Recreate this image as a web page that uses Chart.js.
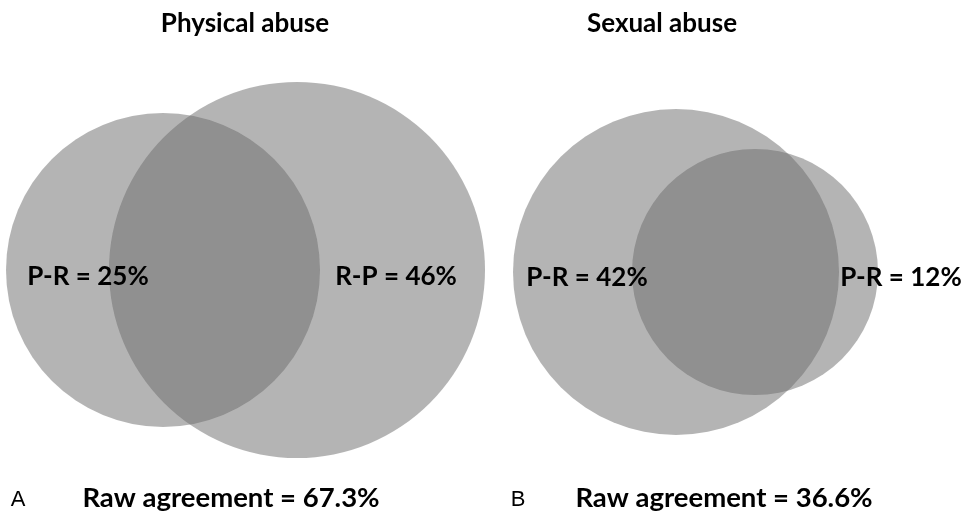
<!DOCTYPE html>
<html lang="en">
<head>
    <meta charset="UTF-8">
    <title>Physical and sexual abuse agreement</title>
    <style>
        body {
            margin: 0;
            background: #ffffff;
        }
        .container {
            width: 965px;
            height: 515px;
            position: relative;
        }
    </style>
</head>
<body>
    <div class="container">
        <canvas id="venn"></canvas>
    </div>
    <script src="https://cdn.jsdelivr.net/npm/chart.js"></script>
    <script>
        // circles (units = scale units, 1 unit = 1px on a 965x515 area)
        const circleNames = ['Physical P', 'Physical R', 'Sexual P', 'Sexual R'];
        const circleX = [163, 297, 676, 755];
        const circleY = [270, 270, 272, 272];
        const circleR = [157, 188, 163, 123];

        const panelTitles = ['Physical abuse', 'Sexual abuse'];
        const regionLabels = ['P-R = 25%', 'R-P = 46%', 'P-R = 42%', 'P-R = 12%'];
        const panelLetters = ['A', 'B'];
        const agreementLabels = ['Raw agreement = 67.3%', 'Raw agreement = 36.6%'];

        // where the texts go, in scale units
        const titlePos = [[245, 24], [662, 24]];
        const regionPos = [[88, 277], [396, 277], [587, 278], [901, 278]];
        const letterPos = [[18, 500], [518, 500]];
        const agreementPos = [[231, 498], [724, 498]];

        const fill = 'rgba(107, 107, 107, 0.51)';

        const textPlugin = {
            id: 'vennText',
            afterDatasetsDraw(chart) {
                const ctx = chart.ctx;
                const xs = chart.scales.x, ys = chart.scales.y;
                function put(str, p, font) {
                    ctx.font = font;
                    ctx.fillText(str, xs.getPixelForValue(p[0]), ys.getPixelForValue(p[1]));
                }
                ctx.save();
                ctx.fillStyle = '#000000';
                ctx.textAlign = 'center';
                ctx.textBaseline = 'middle';
                panelTitles.forEach((t, i) => put(t, titlePos[i], 'bold 26px Lato'));
                regionLabels.forEach((t, i) => put(t, regionPos[i], 'bold 26px Lato'));
                panelLetters.forEach((t, i) => put(t, letterPos[i], '22px "Liberation Sans"'));
                agreementLabels.forEach((t, i) => put(t, agreementPos[i], 'bold 27.5px Lato'));
                ctx.restore();
            }
        };

        new Chart(document.getElementById('venn'), {
            type: 'bubble',
            data: {
                datasets: circleNames.map((name, i) => ({
                    label: name,
                    data: [{ x: circleX[i], y: circleY[i], r: circleR[i] }],
                    backgroundColor: fill,
                    borderWidth: 0,
                    hoverRadius: 0
                }))
            },
            options: {
                responsive: true,
                maintainAspectRatio: false,
                animation: false,
                events: [],
                layout: { padding: 0, autoPadding: false },
                scales: {
                    x: { type: 'linear', min: 0, max: 965, display: false },
                    y: { type: 'linear', min: 0, max: 515, reverse: true, display: false }
                },
                plugins: {
                    legend: { display: false },
                    tooltip: { enabled: false }
                },
                clip: false
            },
            plugins: [textPlugin]
        });
    </script>
</body>
</html>
